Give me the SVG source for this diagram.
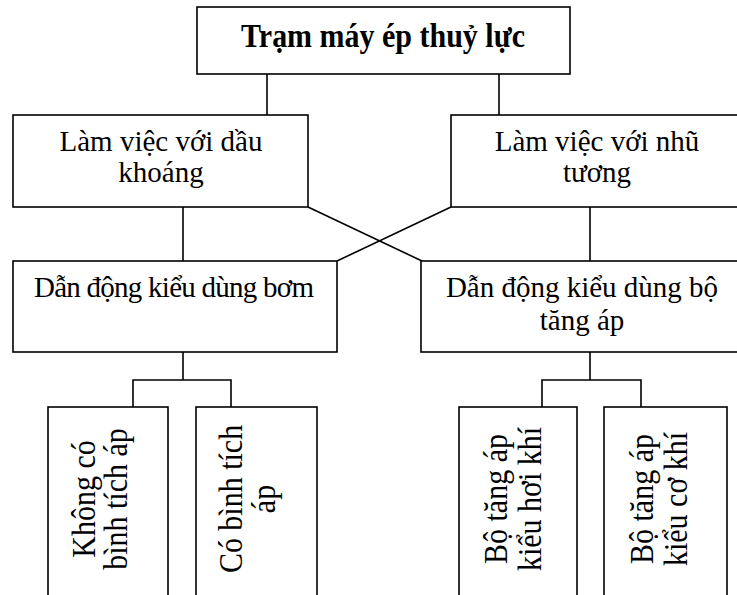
<svg xmlns="http://www.w3.org/2000/svg" width="737" height="595" viewBox="0 0 737 595">
<style>
.box{fill:#fff;stroke:#000;stroke-width:1.6}
.ln{stroke:#000;stroke-width:1.6;fill:none}
.t{font-family:"Liberation Serif","Times New Roman",serif;font-size:29px;fill:#000;text-anchor:middle}
.v{font-family:"Liberation Serif","Times New Roman",serif;font-size:30px;fill:#000;text-anchor:middle}
.b{font-weight:bold;font-size:30px}
</style>
<rect width="737" height="595" fill="#fff"/>
<g id="connectors">
<line class="ln" x1="267" y1="74" x2="267" y2="115"/>
<line class="ln" x1="499" y1="74" x2="499" y2="115"/>
<line class="ln" x1="183" y1="207" x2="183" y2="261"/>
<line class="ln" x1="590" y1="207" x2="590" y2="261"/>
<line class="ln" x1="308" y1="207" x2="422" y2="261"/>
<line class="ln" x1="451" y1="207" x2="337" y2="261"/>
<polyline class="ln" points="183,352 183,380"/>
<polyline class="ln" points="133,407 133,380 231,380 231,407"/>
<polyline class="ln" points="590,352 590,380"/>
<polyline class="ln" points="542,407 542,380 641,380 641,407"/>
</g>
<g id="root">
<rect class="box" x="197" y="7" width="373" height="67"/>
<text class="t b" transform="translate(383,47) scale(1,1.1)">Trạm máy ép thuỷ lực</text>
</g>
<g id="dau-khoang">
<rect class="box" x="13" y="115" width="295" height="92"/>
<text class="t" x="161" y="151">Làm việc với dầu</text>
<text class="t" x="161" y="182">khoáng</text>
</g>
<g id="nhu-tuong">
<rect class="box" x="451" y="115" width="295" height="92"/>
<text class="t" x="597" y="151">Làm việc với nhũ</text>
<text class="t" x="597" y="182">tương</text>
</g>
<g id="bom">
<rect class="box" x="13" y="261" width="324" height="91"/>
<text class="t" x="174" y="297" textLength="280" lengthAdjust="spacing">Dẫn động kiểu dùng bơm</text>
</g>
<g id="tang-ap">
<rect class="box" x="421" y="261" width="324" height="91"/>
<text class="t" x="582" y="297">Dẫn động kiểu dùng bộ</text>
<text class="t" x="582" y="330">tăng áp</text>
</g>
<g id="khong-binh">
<rect class="box" x="48" y="407" width="120" height="200"/>
<text class="v" transform="translate(95,499) rotate(-90) scale(1,1.1)">Không có</text>
<text class="v" transform="translate(127,499) rotate(-90) scale(1,1.1)">bình tích áp</text>
</g>
<g id="co-binh">
<rect class="box" x="196" y="407" width="121" height="200"/>
<text class="v" transform="translate(242,499) rotate(-90) scale(1,1.1)">Có bình tích</text>
<text class="v" transform="translate(275,499) rotate(-90) scale(1,1.1)">áp</text>
</g>
<g id="hoi-khi">
<rect class="box" x="459" y="407" width="118" height="200"/>
<text class="v" transform="translate(507,499) rotate(-90) scale(1,1.1)">Bộ tăng áp</text>
<text class="v" transform="translate(541,499) rotate(-90) scale(1,1.1)">kiểu hơi khí</text>
</g>
<g id="co-khi">
<rect class="box" x="604" y="407" width="123" height="200"/>
<text class="v" transform="translate(653,499) rotate(-90) scale(1,1.1)">Bộ tăng áp</text>
<text class="v" transform="translate(687,499) rotate(-90) scale(1,1.1)">kiểu cơ khí</text>
</g>
</svg>
